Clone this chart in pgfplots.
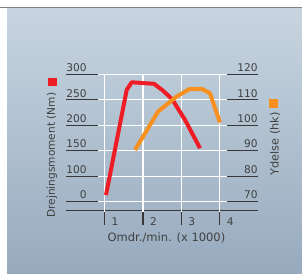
\documentclass[border=0pt]{standalone}
\usepackage{pgfplots}
\pgfplotsset{compat=1.18}
\usepackage{fontspec}
\setmainfont{DejaVu Sans}
\definecolor{panelTop}{HTML}{C8D5E0}
\definecolor{panelBot}{HTML}{97AABE}
\definecolor{tred}{HTML}{EE1C25}
\definecolor{torange}{HTML}{F7901E}
\definecolor{ink}{HTML}{383838}
\definecolor{txt}{HTML}{404040}

\pgfplotsset{
  commonaxis/.style={
    scale only axis, width=191.7pt, height=135.9pt,
    at={(66.2pt,62.7pt)}, anchor=south west,
    xmin=0, xmax=5, ymin=-0.34, ymax=5,
    clip=false,
    axis line style={draw=none}, tick style={draw=none},
    ytick={0,1,2,3,4,5},
    yticklabel style={anchor=base east, inner sep=0pt, yshift=2.8pt,
      font=\fontsize{10.6}{12}\selectfont, text=txt},
    label style={font=\fontsize{11.3}{13}\selectfont, text=txt, inner sep=0pt},
  }
}

\begin{document}
\begin{tikzpicture}[x=1pt,y=1pt]
\fill[white] (0,0) rectangle (302,273);
\shade[top color=panelTop, bottom color=panelBot] (7,0) rectangle (302,264.8);
\draw[black!50, line width=1.5pt] (0,265.5) -- (302,265.5);

\begin{axis}[commonaxis,
  xtick={1,2,3,4},
  xticklabels={1,2,3,4},
  xticklabel style={anchor=base west, inner sep=0pt, xshift=7pt, yshift=-15.5pt,
      font=\fontsize{10.6}{12}\selectfont, text=txt},
  yticklabels={0,100,150,200,250,300},
  yticklabel style={xshift=20.5pt},
  xlabel={Omdr./min. (x 1000)},
  xlabel style={at={(axis description cs:0.523,0)}, anchor=base, yshift=-31.4pt,
      font=\fontsize{11.5}{13}\selectfont},
  ylabel={Drejningsmoment (Nm)},
  ylabel style={at={(axis description cs:-0.074,0.405)}, anchor=center, rotate=0,
      font=\fontsize{10.6}{13}\selectfont},
]
% bottom base line
\draw[ink, line width=1.3pt] (axis cs:0,-0.34) -- (axis cs:5,-0.34);
% horizontal grid rows
\pgfplotsinvokeforeach{0,1,2,3,4,5}{
  \draw[ink, line width=1.3pt] (axis cs:0,#1) -- (axis cs:0.835,#1);
  \draw[white, line width=1.3pt] (axis cs:0.835,#1) -- (axis cs:4.19,#1);
  \draw[ink, line width=1.3pt] (axis cs:4.19,#1) -- (axis cs:5,#1);
}
% vertical grid lines and tick marks
\pgfplotsinvokeforeach{1,2,3,4}{
  \draw[white, line width=1.3pt] (axis cs:#1,-0.42) -- (axis cs:#1,5.02);
  \draw[ink, line width=1.4pt] ([yshift=-1.4pt]axis cs:#1,-0.34) -- ([yshift=-14.7pt]axis cs:#1,-0.34);
}
\addplot[tred, line width=4pt, line join=round] coordinates {
 (1.038,0.26) (1.578,4.39) (1.709,4.69) (2.29,4.63) (2.525,4.36)
 (2.76,4.03) (3.10,3.21) (3.49,2.10)
};
\end{axis}

\begin{axis}[commonaxis,
  xtick=\empty,
  yticklabel pos=right,
  yticklabels={70,80,90,100,110,120},
  ylabel={Ydelse (hk)},
  ylabel style={at={(axis description cs:1.089,0.49)}, anchor=center, rotate=0},
]
\addplot[torange, line width=4pt, line join=round] coordinates {
 (1.795,2.03) (2.395,3.54) (2.88,4.13) (3.21,4.42) (3.535,4.43)
 (3.75,4.26) (4.01,3.11)
};
\end{axis}

% legend keys
\fill[tred] (48.3,186.9) rectangle (56.7,195.3);
\fill[torange] (269.3,165.3) rectangle (277.7,173.7);

\pgfresetboundingbox
\useasboundingbox (0,0) rectangle (302,273);
\end{tikzpicture}
\end{document}
